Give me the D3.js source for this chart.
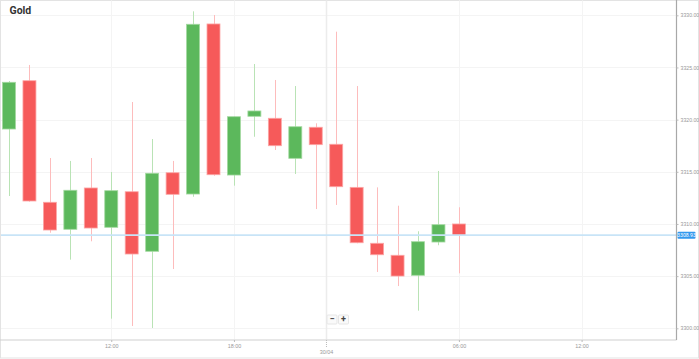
<!DOCTYPE html>
<html>
<head>
<meta charset="utf-8">
<script src="https://cdn.jsdelivr.net/npm/d3@7"></script>
<style>
  html, body { margin: 0; padding: 0; background: #fff; }
  svg { display: block; font-family: Roboto, "Open Sans", sans-serif; }
</style>
</head>
<body>
<svg id="chart" width="699" height="359"></svg>
<script>
// ---- data (hourly candles, Gold) ----
const hours = ["07:00","08:00","09:00","10:00","11:00","12:00","13:00","14:00","15:00","16:00","17:00","18:00",
               "19:00","20:00","21:00","22:00","00:00","01:00","02:00","03:00","04:00","05:00","06:00"];
const opens  = [3319.10,3323.73,3312.08,3309.49,3313.45,3309.68,3313.09,3307.38,3314.91,3312.87,3329.17,3314.69,
                3320.32,3320.13,3316.29,3319.27,3317.64,3313.51,3308.15,3307.00,3305.08,3308.27,3310.00];
const highs  = [3323.70,3325.24,3316.32,3316.04,3316.32,3314.98,3321.69,3318.14,3316.04,3330.38,3330.03,3320.30,
                3325.33,3323.80,3323.22,3319.65,3328.43,3323.22,3313.51,3311.75,3309.30,3315.08,3311.60];
const lows   = [3312.68,3312.13,3309.16,3306.58,3308.34,3300.92,3300.22,3300.03,3305.68,3312.61,3314.62,3313.67,
                3318.36,3317.09,3314.79,3311.43,3311.82,3308.15,3305.40,3304.05,3301.69,3307.96,3305.27];
const closes = [3323.58,3312.20,3309.42,3313.23,3309.61,3313.19,3307.12,3314.86,3312.84,3329.14,3314.72,3320.28,
                3320.83,3317.50,3319.32,3317.60,3313.57,3308.20,3307.05,3305.01,3308.30,3309.93,3308.91];
const priceTicks = [3300, 3305, 3310, 3315, 3320, 3325, 3330];
const timeTickIdx = [5, 11, 15.5, 22, 28];
const timeTickLabels = ["12:00", "18:00", "30/04", "06:00", "12:00"];
const currentPrice = 3308.93;
const title = "Gold";

// ---- layout ----
const svg = d3.select("#chart");
const plotLeft = 1, plotRight = 676, plotTop = 0.5, plotBottom = 339.5;

const x = d3.scaleLinear().domain([0, 28]).range([9, 581.6]);
const y = d3.scaleLinear().domain([3300, 3330]).range([328.3, 15.3]);

const green = "#5cb85c", red = "#f65a5a";
const greenWick = "#b9e3b5", redWick = "#fdbcbc";

// outer frame
svg.append("rect").attr("x", 0.5).attr("y", 0.5).attr("width", 698).attr("height", 357.5)
  .attr("fill", "none").attr("stroke", "#e3e3e3");

// horizontal gridlines
svg.append("g").selectAll("line").data(priceTicks).join("line")
  .attr("x1", plotLeft).attr("x2", plotRight)
  .attr("y1", d => Math.round(y(d)) + 0.5).attr("y2", d => Math.round(y(d)) + 0.5)
  .attr("stroke", "#f4f4f4");

// vertical gridlines
svg.append("g").selectAll("line").data(timeTickIdx).join("line")
  .attr("x1", d => Math.round(x(d)) + 0.5).attr("x2", d => Math.round(x(d)) + 0.5)
  .attr("y1", plotTop).attr("y2", plotBottom)
  .attr("stroke", (d, i) => timeTickLabels[i].includes("/") ? "#ececec" : "#f4f4f4")
  .attr("stroke-width", (d, i) => timeTickLabels[i].includes("/") ? 1.5 : 1);

// candles
const idx = d3.range(hours.length);
const bodyW = 13;
const cg = svg.append("g");
cg.selectAll("line.wick").data(idx).join("line").attr("class", "wick")
  .attr("x1", i => Math.round(x(i)) + 0.5).attr("x2", i => Math.round(x(i)) + 0.5)
  .attr("y1", i => y(highs[i])).attr("y2", i => y(lows[i]))
  .attr("stroke", i => closes[i] >= opens[i] ? greenWick : redWick).attr("stroke-width", 1);
cg.selectAll("rect.body").data(idx).join("rect").attr("class", "body")
  .attr("x", i => x(i) - bodyW / 2)
  .attr("width", bodyW)
  .attr("y", i => y(Math.max(opens[i], closes[i])))
  .attr("height", i => Math.max(1.5, Math.abs(y(opens[i]) - y(closes[i]))))
  .attr("fill", i => closes[i] >= opens[i] ? green : red)
  .attr("stroke", i => closes[i] >= opens[i] ? "#a3d9a0" : "#fca7a7")
  .attr("stroke-width", 0.8);

// current price line
svg.append("line")
  .attr("x1", plotLeft).attr("x2", plotRight)
  .attr("y1", y(currentPrice)).attr("y2", y(currentPrice))
  .attr("stroke", "#c8e4f7").attr("stroke-width", 1.6);

// plot bottom line
svg.append("line").attr("x1", 0).attr("x2", plotRight + 0.5)
  .attr("y1", plotBottom + 0.5).attr("y2", plotBottom + 0.5)
  .attr("stroke", "#cfcfcf").attr("stroke-width", 1.2);

// y axis (right)
const yAxis = d3.axisRight(y).tickValues(priceTicks).tickFormat(d3.format(".2f"))
  .tickSize(2).tickPadding(2);
const yg = svg.append("g").attr("transform", `translate(${plotRight + 0.5},0)`).call(yAxis);
yg.select(".domain").attr("d", `M0,0V${plotBottom + 0.5}`).attr("stroke", "#a8a8a8").attr("stroke-width", 1.2);
yg.selectAll(".tick line").attr("stroke", "#bbb");
yg.selectAll(".tick text").attr("fill", "#999").attr("font-size", 5.2);

// x axis
const xAxis = d3.axisBottom(x).tickValues(timeTickIdx).tickFormat((d, i) => timeTickLabels[i])
  .tickSize(2).tickPadding(2);
const xg = svg.append("g").attr("transform", `translate(0,${plotBottom + 0.5})`).call(xAxis);
xg.select(".domain").remove();
xg.selectAll(".tick line").attr("stroke", "#bbb");
xg.selectAll(".tick text").attr("fill", "#999").attr("font-size", 5.4)
  .attr("dy", (d, i) => timeTickLabels[i].includes("/") ? "1.9em" : "0.71em");
xg.selectAll(".tick").filter((d, i) => timeTickLabels[i].includes("/")).select("line")
  .attr("y2", 8).attr("stroke-dasharray", "1,1");

// current price label
const py = y(currentPrice);
svg.append("rect").attr("x", plotRight + 1.5).attr("y", py - 3.5).attr("width", 18).attr("height", 7)
  .attr("rx", 1).attr("fill", "#3399ee");
svg.append("text").attr("x", plotRight + 10.5).attr("y", py + 1.8).attr("text-anchor", "middle")
  .attr("fill", "#fff").attr("font-size", 5.2).text(d3.format(".2f")(currentPrice));

// title
svg.append("text").attr("x", 9.5).attr("y", 14).attr("font-size", 10.5).attr("font-weight", "bold")
  .attr("fill", "#333").text(title);

// zoom buttons
const btns = [{t: "\u2212"}, {t: "+"}];
const bg = svg.append("g").attr("transform", "translate(327,315)");
btns.forEach((b, i) => {
  const g = bg.append("g").attr("transform", `translate(${i * 11.5},0)`);
  g.append("rect").attr("width", 10).attr("height", 9).attr("rx", 1)
    .attr("fill", "#fafafa").attr("stroke", "#e6e6e6");
  g.append("text").attr("x", 5).attr("y", 7.3).attr("text-anchor", "middle")
    .attr("font-size", 9).attr("font-weight", "bold").attr("fill", "#444").text(b.t);
});
</script>
</body>
</html>
